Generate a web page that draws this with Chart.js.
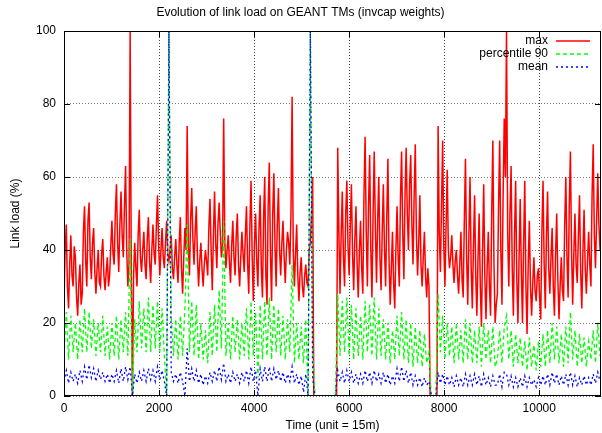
<!DOCTYPE html>
<html lang="en">
<head>
<meta charset="UTF-8">
<title>Evolution of link load on GEANT TMs</title>
<script src="https://cdn.jsdelivr.net/npm/chart.js"></script>
<style>
  html, body { margin: 0; padding: 0; background: #fff; }
  #wrap { width: 602px; height: 433px; }
</style>
</head>
<body>
<div id="wrap"><canvas id="loadChart" width="602" height="433"></canvas></div>
<script>
  // max is read every 24 TMs (6 h), percentile and mean every 48 TMs (1 TM = 15 min)
  const MAX_STEP = 24;
  const STEP = 48;

  const maxLoad = [
    26, 40, 47, 30, 24, 36, 44, 33, 30, 41, 38, 27, 22, 31, 36, 25, 28, 45, 52, 37,
    30, 48, 53, 38, 32, 42, 46, 34, 28, 35, 40, 31, 30, 39, 43, 33, 29, 34, 38, 30,
    33, 41, 48, 39, 36, 50, 58, 42, 34, 47, 56, 44, 38, 52, 63, 40, 30, 36, 100, 34,
    0, 33, 42, 35, 30, 44, 51, 38, 34, 40, 45, 36, 32, 43, 49, 37, 31, 40, 47, 39,
    36, 47, 55, 41, 33, 40, 46, 38, 35, 42, 48, 39, 37, 40, 44, 35, 32, 38, 43, 36,
    31, 42, 49, 35, 28, 38, 46, 40, 74, 41, 33, 48, 57, 43, 36, 45, 52, 38, 30, 37,
    42, 35, 30, 36, 40, 37, 33, 46, 54, 40, 29, 44, 56, 42, 35, 47, 53, 45, 38, 41,
    76, 42, 35, 40, 44, 37, 31, 41, 48, 38, 33, 44, 50, 36, 30, 38, 45, 39, 34, 44,
    52, 36, 28, 47, 59, 38, 26, 42, 50, 37, 30, 46, 55, 35, 27, 49, 60, 33, 25, 52,
    64, 39, 26, 50, 61, 41, 30, 47, 57, 40, 33, 42, 48, 38, 31, 40, 45, 42, 36, 50,
    82, 40, 30, 39, 47, 33, 26, 34, 38, 30, 27, 33, 36, 31, 30, 40, 42, 50, 60, 0,
    0, 0, 0, 0, 0, 0, 0, 0, 0, 0, 0, 0, 0, 0, 0, 0, 0, 0, 0, 0,
    68, 45, 28, 44, 56, 38, 30, 50, 59, 41, 33, 47, 58, 39, 29, 43, 52, 36, 27, 40,
    48, 35, 28, 55, 71, 45, 30, 52, 66, 40, 27, 50, 67, 46, 31, 48, 60, 38, 29, 45,
    58, 40, 30, 49, 65, 37, 25, 35, 45, 31, 24, 40, 52, 38, 30, 54, 67, 45, 32, 55,
    68, 50, 40, 58, 66, 47, 36, 55, 69, 44, 33, 42, 55, 36, 30, 38, 45, 33, 27, 35,
    30, 0, 0, 0, 0, 0, 0, 0, 74, 45, 34, 52, 70, 41, 30, 47, 62, 40, 35, 38,
    44, 36, 31, 37, 40, 33, 28, 36, 45, 32, 27, 48, 65, 38, 25, 44, 60, 35, 24, 41,
    55, 33, 22, 38, 50, 30, 19, 40, 58, 32, 21, 35, 45, 30, 22, 50, 70, 36, 20, 25,
    28, 52, 70, 40, 25, 55, 76, 60, 100, 45, 30, 50, 63, 35, 22, 44, 59, 32, 20, 38,
    54, 34, 20, 42, 59, 30, 17, 36, 48, 30, 22, 31, 38, 29, 26, 33, 35, 27, 21, 45,
    59, 36, 24, 44, 56, 35, 28, 38, 46, 30, 22, 39, 50, 32, 21, 30, 38, 29, 26, 47,
    60, 38, 27, 52, 67, 40, 25, 39, 50, 36, 31, 44, 55, 34, 24, 40, 51, 35, 28, 37,
    45, 36, 30, 55, 69, 44, 35, 48, 61, 47, 40
  ];

  const pct90Load = [
    11, 23, 10, 22, 12, 20, 10, 21, 12, 24,
    12, 23, 13, 21, 11, 20, 12, 22, 11, 19,
    10, 20, 11, 22, 10, 21, 12, 23, 11, 43,
    0, 21, 12, 26, 13, 24, 12, 27, 12, 25,
    13, 26, 12, 24, 11, 0, 100, 22, 11, 21,
    10, 22, 11, 24, 47, 12, 26, 11, 25, 10,
    20, 10, 18, 9, 23, 11, 25, 12, 29, 13,
    48, 11, 20, 10, 22, 12, 21, 10, 20, 11,
    24, 10, 26, 11, 23, 5, 25, 10, 26, 11,
    27, 10, 25, 12, 24, 11, 22, 10, 21, 12,
    36, 9, 20, 10, 19, 9, 21, 0, 100, 14,
    0, 0, 0, 0, 0, 0, 0, 0, 0, 0,
    28, 11, 26, 12, 27, 11, 25, 10, 24, 11,
    22, 10, 26, 12, 25, 11, 27, 10, 24, 11,
    21, 10, 20, 9, 18, 10, 22, 11, 23, 10,
    21, 9, 20, 8, 19, 9, 18, 8, 17, 9,
    12, 0, 0, 0, 28, 12, 22, 10, 20, 11,
    19, 9, 20, 10, 18, 9, 21, 10, 20, 9,
    18, 9, 19, 8, 20, 10, 18, 9, 19, 8,
    10, 18, 9, 19, 22, 10, 18, 8, 17, 9,
    16, 8, 15, 7, 16, 8, 14, 7, 15, 8,
    17, 8, 18, 9, 20, 10, 19, 9, 17, 8,
    19, 9, 23, 10, 18, 8, 17, 9, 16, 8,
    15, 10, 18, 9, 20, 11
  ];

  const meanLoad = [
    4, 7, 3.5, 6.5, 4, 6, 3.5, 7, 4, 8,
    4.5, 8.5, 5, 7.5, 4, 7, 4.5, 6.5, 4, 6,
    3.5, 6, 4, 7, 3.5, 7.5, 4, 8, 4.5, 8,
    0, 6, 3.5, 6.5, 4, 7, 4, 7.5, 4.5, 7,
    4, 8, 4.5, 7, 4, 0, 100, 6.5, 4, 6,
    3.5, 6.5, 4, 0, 13, 4, 7.5, 4, 7, 3.5,
    6, 3, 5.5, 3.5, 6.5, 4, 7, 4, 8, 4.5,
    9, 4, 6, 3.5, 6.5, 4, 6, 3.5, 6.5, 4,
    7, 3.5, 8, 4, 7, 0, 7.5, 4, 8, 4,
    8, 4, 7.5, 4.5, 7, 4, 6.5, 3.5, 6, 4,
    8, 3.5, 6, 3, 5.5, 1, 6, 0, 100, 5,
    0, 0, 0, 0, 0, 0, 0, 0, 0, 0,
    7, 4, 6.5, 3.5, 7, 4, 6.5, 3.5, 6, 3.5,
    6, 3.5, 7, 4, 6.5, 3.5, 7, 4, 6, 3.5,
    6.5, 3.5, 6, 3, 5.5, 3.5, 7.5, 4, 8, 4,
    7, 3.5, 6.5, 3, 5.5, 3, 5, 2.5, 5, 3,
    4, 0, 0, 0, 6.5, 3.5, 6, 3, 5.5, 3,
    5, 2.5, 5.5, 3, 5, 2.5, 6, 3, 5.5, 3,
    6, 3, 5.5, 2.5, 6, 3, 5, 2.5, 5.5, 3,
    3, 6, 2.5, 6.5, 6, 3, 5.5, 2.5, 5, 2.5,
    5, 2.5, 5.5, 2.5, 5, 3, 4.5, 2.5, 5, 3,
    5.5, 3, 6, 3, 6.5, 3.5, 6, 3, 5.5, 3,
    6, 3, 6.5, 3, 5.5, 2.5, 5, 3, 5.5, 3,
    5, 3, 6, 3.5, 6.5, 4
  ];

  const xTicks = [0, 2000, 4000, 6000, 8000, 10000];
  const yTicks = [0, 20, 40, 60, 80, 100];

  const seriesNames = ['max', 'percentile 90', 'mean'];
  const seriesColors = ['#ff0000', '#00ff00', '#0000ff'];
  const seriesDash = [[], [4, 3], [2, 3]];

  function toPoints(values, step) {
    return values.map((v, i) => ({ x: i * step, y: v }));
  }

  Chart.defaults.font.family = '"Liberation Sans", Arial, Helvetica, sans-serif';
  Chart.defaults.font.size = 12;
  Chart.defaults.color = '#000';

  // gnuplot style frame, inward tick marks and the key in the top right corner
  const gnuplotFrame = {
    id: 'gnuplotFrame',
    afterDatasetsDraw(chart) {
      const { ctx, chartArea: a, scales } = chart;
      ctx.save();
      ctx.strokeStyle = '#000';
      ctx.lineWidth = 1;
      ctx.setLineDash([]);
      ctx.strokeRect(a.left + 0.5, a.top + 0.5, a.right - a.left - 1, a.bottom - a.top - 1);
      ctx.beginPath();
      xTicks.forEach(v => {
        const x = Math.round(scales.x.getPixelForValue(v)) + 0.5;
        ctx.moveTo(x, a.bottom); ctx.lineTo(x, a.bottom - 6);
        ctx.moveTo(x, a.top); ctx.lineTo(x, a.top + 6);
      });
      yTicks.forEach(v => {
        const y = Math.round(scales.y.getPixelForValue(v)) + 0.5;
        ctx.moveTo(a.left, y); ctx.lineTo(a.left + 6, y);
        ctx.moveTo(a.right, y); ctx.lineTo(a.right - 6, y);
      });
      ctx.stroke();

      ctx.font = '12px "Liberation Sans", Arial, sans-serif';
      ctx.textAlign = 'right';
      ctx.textBaseline = 'middle';
      ctx.lineWidth = 1.5;
      seriesNames.forEach((name, k) => {
        const y = 41 + 13 * k;
        ctx.fillStyle = '#000';
        ctx.fillText(name, 548, y);
        ctx.strokeStyle = seriesColors[k];
        ctx.setLineDash(seriesDash[k]);
        ctx.beginPath();
        ctx.moveTo(556, y);
        ctx.lineTo(590, y);
        ctx.stroke();
      });
      ctx.restore();
    }
  };

  const ctx = document.getElementById('loadChart').getContext('2d');
  new Chart(ctx, {
    type: 'line',
    data: {
      datasets: [
        { label: seriesNames[0], data: toPoints(maxLoad, MAX_STEP), borderColor: seriesColors[0], borderDash: seriesDash[0], borderWidth: 1.5, order: 3 },
        { label: seriesNames[1], data: toPoints(pct90Load, STEP), borderColor: seriesColors[1], borderDash: seriesDash[1], order: 2 },
        { label: seriesNames[2], data: toPoints(meanLoad, STEP), borderColor: seriesColors[2], borderDash: seriesDash[2], order: 1 }
      ]
    },
    options: {
      responsive: false,
      devicePixelRatio: 1,
      animation: false,
      elements: {
        line: { borderWidth: 1.3, tension: 0, fill: false },
        point: { radius: 0 }
      },
      layout: { padding: { left: 0, right: 1, top: 0, bottom: 0 } },
      plugins: {
        legend: { display: false },
        tooltip: { enabled: false },
        title: {
          display: true,
          text: 'Evolution of link load on GEANT TMs (invcap weights)',
          font: { size: 12, weight: 'normal' },
          color: '#000',
          padding: { top: 5, bottom: 11.6 }
        }
      },
      scales: {
        x: {
          type: 'linear',
          min: 0,
          max: 11300,
          afterBuildTicks(scale) { scale.ticks = xTicks.map(v => ({ value: v })); },
          afterFit(scale) { scale.height = 37; },
          ticks: { maxRotation: 0, autoSkip: false, padding: 5, color: '#000', callback: v => String(v) },
          grid: { color: '#444', drawTicks: false },
          border: { display: false, dash: [1, 2] },
          title: { display: true, text: 'Time (unit = 15m)', color: '#000', padding: { top: 0, bottom: 0 } }
        },
        y: {
          min: 0,
          max: 100,
          afterBuildTicks(scale) { scale.ticks = yTicks.map(v => ({ value: v })); },
          afterFit(scale) { scale.width = 64; },
          ticks: { padding: 8, color: '#000', callback: v => String(v) },
          grid: { color: '#777', drawTicks: false },
          border: { display: false, dash: [1, 2] },
          title: { display: true, text: 'Link load (%)', color: '#000', padding: { top: 8, bottom: 0 } }
        }
      }
    },
    plugins: [gnuplotFrame]
  });
</script>
</body>
</html>
